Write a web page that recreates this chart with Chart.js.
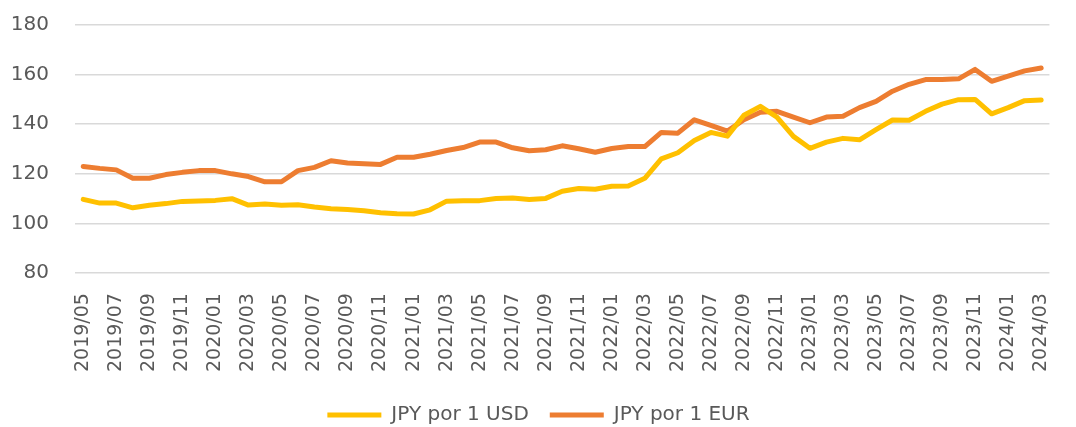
<!DOCTYPE html>
<html lang="es">
<head>
  <meta charset="UTF-8">
  <title>JPY por USD y EUR</title>
  <style>
    html, body { margin: 0; padding: 0; background: #fff; }
    #wrap { width: 1076px; height: 427px; position: relative; }
  </style>
  <script src="https://cdn.jsdelivr.net/npm/chart.js"></script>
</head>
<body>
  <div id="wrap"><canvas id="fxChart"></canvas></div>
  <script>
    // Months 2019/05 .. 2024/03
    const months = [
      '2019/05','2019/06','2019/07','2019/08','2019/09','2019/10','2019/11','2019/12',
      '2020/01','2020/02','2020/03','2020/04','2020/05','2020/06','2020/07','2020/08',
      '2020/09','2020/10','2020/11','2020/12','2021/01','2021/02','2021/03','2021/04',
      '2021/05','2021/06','2021/07','2021/08','2021/09','2021/10','2021/11','2021/12',
      '2022/01','2022/02','2022/03','2022/04','2022/05','2022/06','2022/07','2022/08',
      '2022/09','2022/10','2022/11','2022/12','2023/01','2023/02','2023/03','2023/04',
      '2023/05','2023/06','2023/07','2023/08','2023/09','2023/10','2023/11','2023/12',
      '2024/01','2024/02','2024/03'
    ];

    const jpyPerUsd = [
      109.7, 108.2, 108.2, 106.3, 107.3, 108.0, 108.9, 109.1,
      109.3, 110.0, 107.4, 107.8, 107.3, 107.5, 106.6, 105.9,
      105.6, 105.1, 104.3, 103.9, 103.8, 105.5, 109.0, 109.2,
      109.2, 110.1, 110.3, 109.7, 110.1, 113.0, 114.1, 113.8,
      115.0, 115.1, 118.2, 126.0, 128.5, 133.4, 136.7, 135.2,
      143.6, 147.2, 142.9, 135.1, 130.3, 132.8, 134.3, 133.7,
      137.8, 141.7, 141.6, 145.2, 148.1, 149.9, 150.0, 144.2,
      146.7, 149.5, 149.8
    ];

    const jpyPerEur = [
      123.0, 122.2, 121.6, 118.2, 118.2, 119.7, 120.6, 121.3,
      121.3, 120.0, 118.9, 116.8, 116.8, 121.3, 122.6, 125.3,
      124.4, 124.1, 123.8, 126.7, 126.7, 127.9, 129.4, 130.6,
      132.8, 132.8, 130.5, 129.3, 129.7, 131.3, 130.1, 128.7,
      130.2, 131.0, 131.0, 136.7, 136.4, 141.8, 139.5, 137.2,
      141.8, 144.8, 145.2, 142.9, 140.6, 142.9, 143.2, 146.7,
      149.2, 153.3, 156.1, 158.0, 158.0, 158.3, 162.1, 157.3,
      159.4, 161.5, 162.7
    ];

    const yTicks = [80, 100, 120, 140, 160, 180];

    const textColor = '#595959';
    const fontFamily = '"DejaVu Sans", sans-serif';

    new Chart(document.getElementById('fxChart'), {
      type: 'line',
      data: {
        labels: months,
        datasets: [
          {
            label: 'JPY por 1 USD',
            data: jpyPerUsd,
            borderColor: '#FFC000',
            backgroundColor: '#FFC000',
            borderWidth: 5,
            pointRadius: 0,
            tension: 0,
            borderCapStyle: 'round',
            borderJoinStyle: 'round'
          },
          {
            label: 'JPY por 1 EUR',
            data: jpyPerEur,
            borderColor: '#ED7D31',
            backgroundColor: '#ED7D31',
            borderWidth: 5,
            pointRadius: 0,
            tension: 0,
            borderCapStyle: 'round',
            borderJoinStyle: 'round'
          }
        ]
      },
      options: {
        responsive: true,
        maintainAspectRatio: false,
        animation: false,
        layout: { padding: { left: 6, right: 5, top: 25, bottom: 0 } },
        plugins: {
          tooltip: { enabled: false },
          legend: {
            position: 'bottom',
            maxHeight: 43,
            labels: {
              color: textColor,
              font: { family: fontFamily, size: 20 },
              usePointStyle: true,
              pointStyle: 'line',
              pointStyleWidth: 54,
              padding: 21
            }
          }
        },
        scales: {
          x: {
            offset: true,
            grid: { display: false },
            border: { display: false },
            ticks: {
              color: textColor,
              font: { family: fontFamily, size: 19 },
              autoSkip: false,
              minRotation: 90,
              maxRotation: 90,
              padding: 12,
              callback: function(value, index) {
                return index % 2 === 0 ? months[index] : '';
              }
            }
          },
          y: {
            min: yTicks[0],
            max: yTicks[yTicks.length - 1],
            afterBuildTicks: function(axis) {
              axis.ticks = yTicks.map(v => ({ value: v }));
            },
            afterFit: function(axis) {
              axis.width = 69;
              axis.paddingTop = 0;
              axis.paddingBottom = 0;
            },
            border: { display: false },
            grid: { color: '#D9D9D9', lineWidth: 1.5, drawTicks: false },
            ticks: {
              color: textColor,
              font: { family: fontFamily, size: 20 },
              padding: 26
            }
          }
        }
      }
    });
  </script>
</body>
</html>
